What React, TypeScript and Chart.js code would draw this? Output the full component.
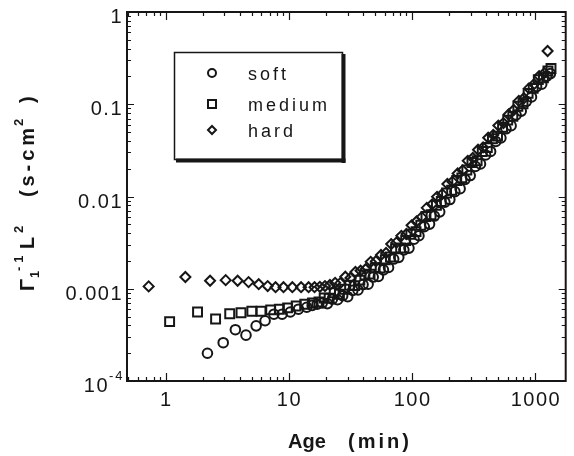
import { useEffect, useRef } from 'react';
import { Chart, registerables } from 'chart.js';

Chart.register(...registerables);

// ---- data ----
const softX = [2.19, 2.94, 3.69, 4.5, 5.44, 6.43, 7.58, 8.84, 10.3, 12, 14, 15.5,
  17, 18.7, 20.6, 22.6, 24.9, 27.4, 30.1, 33.1, 36.5, 40.1, 44.1, 48.5, 53.4, 58.7, 64.6, 71.1, 78.2, 86, 94.6,
  104, 114, 126, 139, 152, 168, 185, 203, 223, 246, 270, 297, 327, 360, 396, 435, 479, 527, 580, 638, 701, 771,
  849, 934, 1027, 1130, 1243, 1330];
const softY = [0.0002, 0.00026, 0.00036, 0.000314, 0.000396, 0.00045, 0.00053, 0.00053, 0.00056, 0.0006, 0.00063, 0.00066,
  0.00068, 0.0007, 0.00069, 0.00077, 0.00076, 0.00084, 0.00082, 0.00096, 0.00097, 0.00111, 0.00112, 0.00134, 0.00136, 0.0016, 0.0017, 0.0021, 0.00219, 0.00264, 0.00276,
  0.00345, 0.00376, 0.0047, 0.00502, 0.00614, 0.00682, 0.00867, 0.00927, 0.01129, 0.01216, 0.01534, 0.01686, 0.0212, 0.02256, 0.0282, 0.0308, 0.0395, 0.0432, 0.0542, 0.0586, 0.0765, 0.0843,
  0.1077, 0.12, 0.1556, 0.1647, 0.2018, 0.215];

const mediumX = [1.08, 1.82, 2.55, 3.32, 4.1, 5.02, 5.96, 7.14, 8.4, 9.8, 11.5, 13.5, 15.6,
  17.6, 19.4, 21.3, 23.4, 25.8, 28.4, 31.2, 34.3, 37.8, 41.5, 45.7, 50.3, 55.3, 60.8, 66.9, 73.6, 81, 89, 98,
  108, 118, 130, 143, 158, 173, 191, 210, 231, 254, 279, 307, 338, 372, 409, 450, 495, 544, 599, 659, 724, 797,
  877, 964, 1061, 1167, 1270, 1345];
const mediumY = [0.00044, 0.00056, 0.00047, 0.000535, 0.00055, 0.00057, 0.00057, 0.00059, 0.0006, 0.00062, 0.00065, 0.00068, 0.0007,
  0.000718, 0.000794, 0.000791, 0.000906, 0.00087, 0.000988, 0.00109, 0.00108, 0.00124, 0.00141, 0.00144, 0.00169, 0.00168, 0.00206, 0.00221, 0.00271, 0.00277, 0.00334, 0.00389,
  0.00416, 0.00488, 0.00608, 0.00634, 0.00805, 0.00882, 0.01092, 0.01171, 0.01491, 0.01591, 0.01938, 0.02332, 0.02442, 0.0308, 0.034, 0.0423, 0.0451, 0.0563, 0.0673, 0.0739, 0.0951, 0.1014,
  0.1312, 0.1487, 0.1848, 0.194, 0.2295, 0.244];

const hardX = [0.73, 1.45, 2.3, 3.08, 3.85, 4.72, 5.71, 6.75, 7.82, 9.07, 10.7, 12.6, 14.5,
  16.2, 17.9, 19.7, 21.6, 23.8, 26.2, 28.8, 31.7, 34.8, 38.3, 42.1, 46.3, 51, 56.1, 61.7, 67.9, 74.7, 82.1, 90.3, 99.4,
  109, 120, 132, 146, 160, 176, 194, 213, 235, 258, 284, 312, 344, 378, 416, 457, 503, 553, 609, 670, 737, 810,
  891, 980, 1078, 1186, 1262];
const hardY = [0.00106, 0.00134, 0.00122, 0.00124, 0.00122, 0.00118, 0.00112, 0.00107, 0.00104, 0.00104, 0.00104, 0.00104, 0.00104,
  0.00104, 0.00105, 0.00107, 0.0011, 0.00116, 0.00115, 0.00135, 0.00131, 0.00152, 0.00157, 0.00163, 0.00196, 0.00199, 0.00232, 0.00244, 0.00305, 0.00316, 0.00375, 0.00392, 0.00487,
  0.00536, 0.00597, 0.00753, 0.00823, 0.00992, 0.01061, 0.01368, 0.01449, 0.01777, 0.01923, 0.02436, 0.02617, 0.03214, 0.03401, 0.04337, 0.04656, 0.05872, 0.0625, 0.0775, 0.0867, 0.1088, 0.1162,
  0.1486, 0.1653, 0.2021, 0.2174, 0.378];

const seriesNames = ['soft', 'medium', 'hard'];
const xTickValues = [1, 10, 100, 1000];
const xTickLabels = ['1', '10', '100', '1000'];
const yTickValues = [1, 0.1, 0.01, 0.001, 0.0001];
const yTickLabels = ['1', '0.1', '0.01', '0.001', '10^-4'];
const xTitleParts = ['Age', '(min)'];

const INK = '#161616';
const FONT = '"Liberation Sans", Arial, sans-serif';

const toPts = (xs: number[], ys: number[]) => xs.map((x, i) => ({ x, y: ys[i] }));

const overlay = {
  id: 'overlay',
  beforeDraw(chart: any) {
    const ctx = chart.ctx;
    ctx.save();
    ctx.fillStyle = '#ffffff';
    ctx.fillRect(0, 0, chart.width, chart.height);
    ctx.restore();
  },
  afterDraw(chart: any) {
    const ctx = chart.ctx as CanvasRenderingContext2D;
    const a = chart.chartArea;
    const xs = chart.scales.x;
    const ys = chart.scales.y;
    ctx.save();
    ctx.strokeStyle = INK;
    ctx.fillStyle = INK;

    // frame
    ctx.lineWidth = 2;
    ctx.strokeRect(a.left, a.top, a.right - a.left, a.bottom - a.top);

    // inward ticks
    ctx.lineWidth = 1.2;
    ctx.beginPath();
    for (let e = -1; e <= 3; e++) {
      for (let m = 1; m <= 9; m++) {
        const v = m * Math.pow(10, e);
        if (v < xs.min || v > xs.max) continue;
        const px = Math.round(xs.getPixelForValue(v)) + 0.5;
        const len = m === 1 ? 8 : 4;
        ctx.moveTo(px, a.bottom); ctx.lineTo(px, a.bottom - len);
        ctx.moveTo(px, a.top); ctx.lineTo(px, a.top + len);
      }
    }
    for (let e = -4; e <= 0; e++) {
      for (let m = 1; m <= 9; m++) {
        const v = m * Math.pow(10, e);
        if (v < ys.min || v > ys.max * 1.0001) continue;
        const py = Math.round(ys.getPixelForValue(v)) + 0.5;
        const len = m === 1 ? 7 : 4;
        ctx.moveTo(a.left, py); ctx.lineTo(a.left + len, py);
        ctx.moveTo(a.right, py); ctx.lineTo(a.right - len, py);
      }
    }
    ctx.stroke();

    // tick labels
    ctx.textBaseline = 'alphabetic';
    ctx.font = `20px ${FONT}`;
    (ctx as any).letterSpacing = '1.5px';
    ctx.textAlign = 'center';
    xTickValues.forEach((v, i) => {
      ctx.fillText(xTickLabels[i], xs.getPixelForValue(v) + 0.75, 406);
    });
    yTickValues.forEach((v, i) => {
      const py = ys.getPixelForValue(v);
      const lab = yTickLabels[i];
      if (lab.includes('^')) {
        const [base, exp] = lab.split('^');
        ctx.font = `20px ${FONT}`;
        (ctx as any).letterSpacing = '1.5px';
        ctx.textAlign = 'right';
        ctx.fillText(base, 109, py + 11);
        ctx.font = `13px ${FONT}`;
        (ctx as any).letterSpacing = '2px';
        ctx.textAlign = 'left';
        ctx.fillText(exp, 109, py - 1);
      } else {
        ctx.font = `20px ${FONT}`;
        (ctx as any).letterSpacing = '1.5px';
        ctx.textAlign = 'right';
        ctx.fillText(lab, 123, py + 11);
      }
    });

    // x title
    ctx.font = `bold 20px ${FONT}`;
    ctx.textAlign = 'left';
    (ctx as any).letterSpacing = '0px';
    ctx.fillText(xTitleParts[0], 288, 448);
    (ctx as any).letterSpacing = '3px';
    ctx.fillText(xTitleParts[1], 348, 448);

    // y title (rotated)
    ctx.save();
    ctx.translate(34, 291);
    ctx.rotate(-Math.PI / 2);
    const B20 = `bold 20px ${FONT}`;
    const B12 = `bold 13px ${FONT}`;
    const run = (t: string, x: number, y: number, f: string, ls: string) => {
      ctx.font = f;
      (ctx as any).letterSpacing = ls;
      ctx.fillText(t, x, y);
    };
    run('Γ', 0, 0, B20, '0px');
    run('1', 13, 5, B12, '0px');
    run('-1', 20, -11, B12, '4px');
    run('L', 42, 0, B20, '0px');
    run('2', 58, -11, B12, '0px');
    run('(s-cm', 94, 0, B20, '3.9px');
    run('2', 165, -11, B12, '0px');
    run(')', 188, 0, B20, '0px');
    ctx.restore();

    // legend box
    ctx.lineWidth = 1.5;
    ctx.strokeRect(174.5, 52.5, 168, 107);
    ctx.fillRect(341.5, 54, 4, 109);
    ctx.fillRect(176, 158.5, 169.5, 4);

    const mx = 212;
    const rows = [73, 104, 130];
    const bases = [80, 111, 137];
    ctx.lineWidth = 2;
    ctx.beginPath();
    ctx.arc(mx, rows[0], 4, 0, Math.PI * 2);
    ctx.stroke();
    ctx.strokeRect(mx - 4, rows[1] - 4, 8, 8);
    ctx.beginPath();
    ctx.moveTo(mx, rows[2] - 4); ctx.lineTo(mx + 4, rows[2]);
    ctx.lineTo(mx, rows[2] + 4); ctx.lineTo(mx - 4, rows[2]);
    ctx.closePath();
    ctx.stroke();

    ctx.font = `18px ${FONT}`;
    (ctx as any).letterSpacing = '3px';
    ctx.textAlign = 'left';
    seriesNames.forEach((n, i) => ctx.fillText(n, 248, bases[i]));
    (ctx as any).letterSpacing = '0px';
    ctx.restore();
  },
};

export default function App() {
  const ref = useRef<HTMLCanvasElement>(null);
  useEffect(() => {
    document.body.style.margin = '0';
    const canvas = ref.current!;
    const common = {
      borderColor: INK,
      backgroundColor: 'rgba(0,0,0,0)',
      borderWidth: 2,
      showLine: false,
    };
    const chart = new Chart(canvas, {
      type: 'scatter',
      data: {
        datasets: [
          { ...common, label: seriesNames[0], data: toPts(softX, softY), pointStyle: 'circle', pointRadius: 4.8 },
          { ...common, label: seriesNames[1], data: toPts(mediumX, mediumY), pointStyle: 'rect', pointRadius: 6.3 },
          { ...common, label: seriesNames[2], data: toPts(hardX, hardY), pointStyle: 'rectRot', pointRadius: 5 },
        ],
      },
      options: {
        responsive: false,
        animation: false,
        devicePixelRatio: 1,
        layout: { padding: { left: 127, right: 3, top: 12, bottom: 75 } },
        plugins: { legend: { display: false }, tooltip: { enabled: false } },
        scales: {
          x: { type: 'logarithmic', min: 0.487, max: 1770, display: false },
          y: { type: 'logarithmic', min: 0.0001, max: 1, display: false },
        },
      },
      plugins: [overlay],
    } as any);
    return () => chart.destroy();
  }, []);
  return <canvas ref={ref} width={574} height={456} style={{ display: 'block', width: 574, height: 456 }} />;
}
